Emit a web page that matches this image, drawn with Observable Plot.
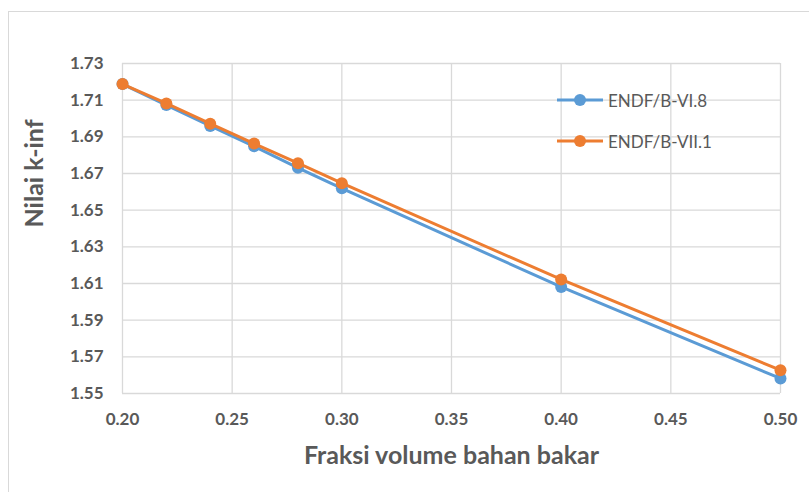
<!DOCTYPE html>
<html>
<head>
<meta charset="utf-8">
<script src="https://cdn.jsdelivr.net/npm/d3@7"></script>
<script src="https://cdn.jsdelivr.net/npm/@observablehq/plot@0.6"></script>
<style>
  html, body { margin: 0; padding: 0; background: #fff; }
  #wrap { position: relative; width: 809px; height: 492px; overflow: hidden; font-family: Lato, "Open Sans", sans-serif; }
  #border { position: absolute; left: 8px; top: 11px; width: 900px; height: 600px; border: 1px solid #d9d9d9; pointer-events: none; }
  #legend { position: absolute; left: 556px; top: 87px; font-size: 17px; color: #595959; }
  .item { display: flex; align-items: center; height: 26px; margin-bottom: 15px; }
  .item svg { margin-right: 4px; }
</style>
</head>
<body>
<div id="wrap">
  <div id="border"></div>
  <div id="chart"></div>
  <div id="legend"></div>
</div>
<script>
// Fuel volume fraction (x) and k-infinity for two nuclear data libraries
const fraction = [0.20, 0.22, 0.24, 0.26, 0.28, 0.30, 0.40, 0.50];
const kinfVI8  = [1.7188, 1.7073, 1.6959, 1.6848, 1.6731, 1.6619, 1.6081, 1.5582];
const kinfVII1 = [1.7188, 1.7082, 1.6972, 1.6863, 1.6756, 1.6647, 1.6122, 1.5627];

const seriesNames = ["ENDF/B-VI.8", "ENDF/B-VII.1"];
const seriesColors = ["#5b9bd5", "#ed7d31"];

const xTicks = [0.20, 0.25, 0.30, 0.35, 0.40, 0.45, 0.50];
const yTicks = [1.55, 1.57, 1.59, 1.61, 1.63, 1.65, 1.67, 1.69, 1.71, 1.73];

const xTitle = "Fraksi volume bahan bakar";
const yTitle = "Nilai k-inf";

const rows = (vals, name) => fraction.map((f, i) => ({ f, k: vals[i], name }));
const dataVI8 = rows(kinfVI8, seriesNames[0]);
const dataVII1 = rows(kinfVII1, seriesNames[1]);

const font = "Lato, 'Open Sans', sans-serif";
const grey = "#595959";

const chart = Plot.plot({
  width: 809,
  height: 492,
  marginLeft: 122,
  marginRight: 29,
  marginTop: 63,
  marginBottom: 99,
  style: { fontFamily: font, background: "transparent", overflow: "visible" },
  x: { domain: [0.2, 0.5] },
  y: { domain: [1.55, 1.73] },
  marks: [
    Plot.gridY(yTicks, { stroke: "#d9d9d9", strokeOpacity: 1, strokeWidth: 1.3 }),
    Plot.gridX(xTicks, { stroke: "#d9d9d9", strokeOpacity: 1, strokeWidth: 1.3 }),
    Plot.axisY({ ticks: yTicks, tickFormat: ".2f", tickSize: 0, tickPadding: 19, fontSize: 17, fontWeight: "bold", fill: grey, label: null }),
    Plot.axisX({ ticks: xTicks, tickFormat: ".2f", tickSize: 0, tickPadding: 19, fontSize: 17, fontWeight: "bold", fill: grey, label: null }),
    Plot.lineY(dataVI8, { x: "f", y: "k", stroke: seriesColors[0], strokeWidth: 3 }),
    Plot.dot(dataVI8, { x: "f", y: "k", fill: seriesColors[0], r: 6 }),
    Plot.lineY(dataVII1, { x: "f", y: "k", stroke: seriesColors[1], strokeWidth: 3 }),
    Plot.dot(dataVII1, { x: "f", y: "k", fill: seriesColors[1], r: 6 }),
    Plot.text([xTitle], { frameAnchor: "bottom", dy: 70, fontSize: 25, fontWeight: "bold", fill: grey }),
    Plot.text([yTitle], { frameAnchor: "left", rotate: -90, dx: -88, dy: -1, fontSize: 25, fontWeight: "bold", fill: grey })
  ]
});
document.getElementById("chart").append(chart);

// Legend: line-with-marker swatch and series name
const legend = d3.select("#legend");
seriesNames.forEach((name, i) => {
  const item = legend.append("div").attr("class", "item");
  const sw = item.append("svg").attr("width", 48).attr("height", 14);
  sw.append("line").attr("x1", 1).attr("x2", 47).attr("y1", 7).attr("y2", 7)
    .attr("stroke", seriesColors[i]).attr("stroke-width", 3);
  sw.append("circle").attr("cx", 24).attr("cy", 7).attr("r", 6).attr("fill", seriesColors[i]);
  item.append("span").text(name);
});
</script>
</body>
</html>
